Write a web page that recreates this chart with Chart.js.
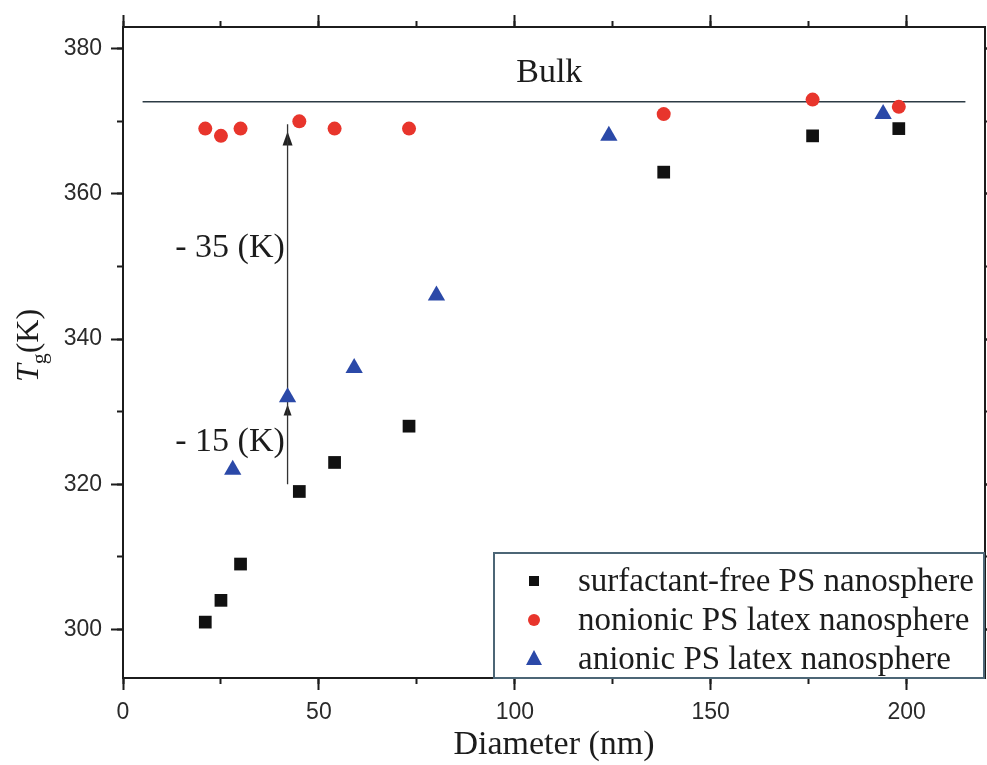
<!DOCTYPE html>
<html>
<head>
<meta charset="utf-8">
<script src="https://cdn.jsdelivr.net/npm/chart.js@4/dist/chart.umd.min.js"></script>
<style>
  html, body { margin: 0; padding: 0; background: #fff; }
  #wrap { width: 987px; height: 765px; position: relative; }
</style>
</head>
<body>
<div id="wrap"><canvas id="chart"></canvas></div>
<script>
// Diameter (nm) and glass transition temperature Tg (K)
const diameterFree = [21, 25, 30, 45, 54, 73, 138, 176, 198];
const tgFree = [301, 304, 309, 319, 323, 328, 363, 368, 369];

const diameterNonionic = [21, 25, 30, 45, 54, 73, 138, 176, 198];
const tgNonionic = [369, 368, 369, 370, 369, 369, 371, 373, 372];

const diameterAnionic = [28, 42, 59, 80, 124, 194];
const tgAnionic = [322, 332, 336, 346, 368, 371];

const seriesLabels = [
  "surfactant-free PS nanosphere",
  "nonionic PS latex nanosphere",
  "anionic PS latex nanosphere",
];

// bulk Tg reference line and the two "drop" arrows
const bulkTg = 372.7;
const bulkSpan = [5, 215];
const arrowX = 42;
const arrowFrom = 320;
const arrowTips = [368.6, 331];

const X_MIN = 0, X_MAX = 220;
const Y_MIN = 293.3, Y_MAX = 383;

const SERIF = "'Liberation Serif', 'Times New Roman', serif";
const SANS = "'Liberation Sans', Arial, sans-serif";
const INK = "#1c1c1c";

const COLORS = ["#111111", "#e8352c", "#2b49a8"];
const STYLES = ["rect", "circle", "triangle"];
const RADII = [9, 7, 10];

function toPoints(xs, ys) {
  return xs.map((x, i) => ({ x: x, y: ys[i] }));
}

/**
 * One axis config. Major/minor pairs share a side; the minor one gets
 * zero size so both draw their tick marks from the frame edge.
 */
function makeAxis(position, min, max, step, tickLen, size, weight, showLabels) {
  const horizontal = position === "top" || position === "bottom";
  return {
    type: "linear",
    position: position,
    min: min,
    max: max,
    weight: weight,
    ticks: {
      display: showLabels,
      stepSize: step,
      includeBounds: false,
      autoSkip: false,
      maxRotation: 0,
      padding: 9,
      color: "#2a2a2a",
      font: { family: SANS, size: 23 },
    },
    grid: {
      drawOnChartArea: false,
      drawTicks: true,
      tickLength: tickLen,
      tickWidth: 2,
      tickColor: INK,
    },
    border: { display: true, color: INK, width: 2 },
    afterFit: (scale) => {
      if (horizontal) scale.height = size;
      else scale.width = size;
    },
  };
}

// extra drawing: bulk label, arrowheads, annotations, y title, legend box
const decorations = {
  id: "decorations",
  beforeDatasetsDraw(chart) {
    const ctx = chart.ctx;
    const xs = chart.scales.x, ys = chart.scales.y;
    const px = xs.getPixelForValue(arrowX);
    ctx.save();
    ctx.fillStyle = "#222";
    arrowTips.forEach((tip, i) => {
      const py = ys.getPixelForValue(tip);
      const w = i === 0 ? 5 : 4;
      const h = i === 0 ? 14 : 11;
      ctx.beginPath();
      ctx.moveTo(px, py);
      ctx.lineTo(px - w, py + h);
      ctx.lineTo(px + w, py + h);
      ctx.closePath();
      ctx.fill();
    });
    ctx.restore();
  },
  afterDraw(chart) {
    const ctx = chart.ctx;
    const area = chart.chartArea;
    const xs = chart.scales.x, ys = chart.scales.y;
    ctx.save();

    // text annotations
    ctx.fillStyle = INK;
    ctx.font = "34px " + SERIF;
    ctx.textBaseline = "middle";
    ctx.textAlign = "center";
    ctx.fillText("Bulk", xs.getPixelForValue(108.8), ys.getPixelForValue(376.7));
    ctx.textAlign = "right";
    ctx.fillText("- 35 (K)", xs.getPixelForValue(41.3), ys.getPixelForValue(352.6));
    ctx.fillText("- 15 (K)", xs.getPixelForValue(41.3), ys.getPixelForValue(325.8));

    // y axis title: italic T with subscript g, then (K)
    ctx.save();
    ctx.translate(38, (area.top + area.bottom) / 2 - 7);
    ctx.rotate(-Math.PI / 2);
    ctx.textAlign = "left";
    ctx.textBaseline = "alphabetic";
    const fT = "italic 32px " + SERIF, fG = "22px " + SERIF, fK = "32px " + SERIF;
    ctx.font = fT; const wT = ctx.measureText("T").width;
    ctx.font = fG; const wG = ctx.measureText("g").width;
    ctx.font = fK; const wK = ctx.measureText("(K)").width;
    let cx = -(wT + wG + wK) / 2;
    ctx.font = fT; ctx.fillText("T", cx, 0); cx += wT;
    ctx.font = fG; ctx.fillText("g", cx, 8); cx += wG;
    ctx.font = fK; ctx.fillText("(K)", cx, 0);
    ctx.restore();

    // legend box, bottom right inside the frame
    const left = area.right - 491, top = area.bottom - 125;
    ctx.fillStyle = "#fff";
    ctx.fillRect(left, top, area.right - left - 1, area.bottom - top - 1);
    ctx.strokeStyle = "#4c6676";
    ctx.lineWidth = 2;
    ctx.strokeRect(left, top, area.right - left - 1, area.bottom - top);
    ctx.font = "33px " + SERIF;
    ctx.textAlign = "left";
    ctx.textBaseline = "middle";
    seriesLabels.forEach((label, i) => {
      const y = top + 28 + i * 39;
      const mx = left + 40;
      ctx.fillStyle = COLORS[i];
      ctx.beginPath();
      if (STYLES[i] === "rect") {
        ctx.rect(mx - 5, y - 5, 10, 10);
      } else if (STYLES[i] === "circle") {
        ctx.arc(mx, y, 6, 0, Math.PI * 2);
      } else {
        ctx.moveTo(mx, y - 9);
        ctx.lineTo(mx - 8, y + 6);
        ctx.lineTo(mx + 8, y + 6);
        ctx.closePath();
      }
      ctx.fill();
      ctx.fillStyle = INK;
      ctx.fillText(label, left + 84, y + 1);
    });
    ctx.restore();
  },
};

const scatterSets = [
  toPoints(diameterFree, tgFree),
  toPoints(diameterNonionic, tgNonionic),
  toPoints(diameterAnionic, tgAnionic),
].map((data, i) => ({
  label: seriesLabels[i],
  data: data,
  xAxisID: "x",
  yAxisID: "y",
  pointStyle: STYLES[i],
  pointRadius: RADII[i],
  pointBackgroundColor: COLORS[i],
  pointBorderColor: COLORS[i],
  pointBorderWidth: 0,
  showLine: false,
  order: 1,
}));

const lineSets = [
  {
    label: "bulk",
    data: [{ x: bulkSpan[0], y: bulkTg }, { x: bulkSpan[1], y: bulkTg }],
    borderColor: "#2c3b44",
    borderWidth: 1.6,
  },
  {
    label: "arrow",
    data: [{ x: arrowX, y: arrowFrom }, { x: arrowX, y: arrowTips[0] + 1 }],
    borderColor: "#333",
    borderWidth: 1.3,
  },
].map((set) => Object.assign(set, {
  xAxisID: "x",
  yAxisID: "y",
  showLine: true,
  pointRadius: 0,
  fill: false,
  order: 10,
}));

const xTitle = {
  display: true,
  text: "Diameter (nm)",
  color: INK,
  font: { family: SERIF, size: 34 },
  padding: { top: 0, bottom: 0 },
};

const scales = {
  x: Object.assign(makeAxis("bottom", X_MIN, X_MAX, 50, 12, 87, 1, true), { title: xTitle }),
  xMinor: makeAxis("bottom", X_MIN, X_MAX, 25, 6, 0, 0, false),
  xTop: makeAxis("top", X_MIN, X_MAX, 50, 12, 27, 1, false),
  xTopMinor: makeAxis("top", X_MIN, X_MAX, 25, 6, 0, 0, false),
  y: makeAxis("left", Y_MIN, Y_MAX, 20, 12, 123, 1, true),
  yMinor: makeAxis("left", Y_MIN, Y_MAX, 10, 6, 0, 0, false),
  yRight: makeAxis("right", Y_MIN, Y_MAX, 20, 12, 2, 1, false),
  yRightMinor: makeAxis("right", Y_MIN, Y_MAX, 10, 6, 0, 0, false),
};

new Chart(document.getElementById("chart"), {
  type: "scatter",
  data: { datasets: scatterSets.concat(lineSets) },
  options: {
    responsive: true,
    maintainAspectRatio: false,
    animation: false,
    // marker radius would otherwise pad the frame away from the right edge
    layout: { autoPadding: false, padding: 0 },
    plugins: {
      legend: { display: false },
      tooltip: { enabled: false },
      title: { display: false },
    },
    scales: scales,
  },
  plugins: [decorations],
});
</script>
</body>
</html>
